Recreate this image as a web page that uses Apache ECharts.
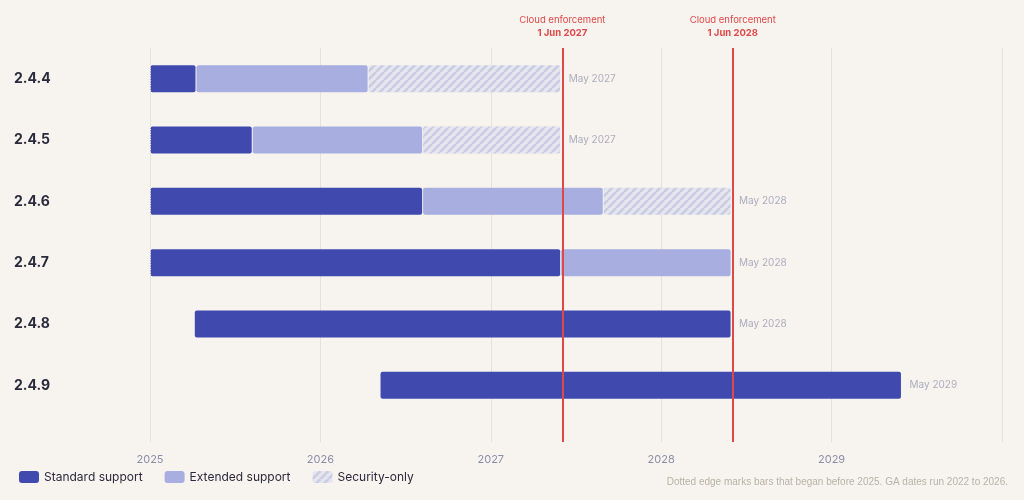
<!DOCTYPE html>
<html>
<head>
<meta charset="utf-8">
<script src="https://cdn.jsdelivr.net/npm/echarts@6/dist/echarts.min.js"></script>
<style>
html, body { margin: 0; background: #f7f4ef; }
#chart { width: 1024px; height: 500px; }
</style>
</head>
<body>
<div id="chart"></div>
<script>
// release lines, top to bottom
let versions = ['2.4.4', '2.4.5', '2.4.6', '2.4.7', '2.4.8', '2.4.9']
// times as decimal years
let barStart = [2025, 2025, 2025, 2025, 2025.26, 2026.35]
let beganBefore = [true, true, true, true, false, false]
let stdEnd = [2025.27, 2025.60, 2026.60, 2027.41, 2028.41, 2029.41]
let extEnd = [2026.28, 2026.60, 2027.66, 2028.41, null, null]
let secEnd = [2027.41, 2027.41, 2028.41, null, null, null]
let endLabels = ['May 2027', 'May 2027', 'May 2028', 'May 2028', 'May 2028', 'May 2029']
let cloudDates = [2027.416, 2028.416]
let cloudLabels = ['Cloud enforcement\n{b|1 Jun 2027}', 'Cloud enforcement\n{b|1 Jun 2028}']
let yearTicks = [2025, 2026, 2027, 2028, 2029]

let hatch = document.createElement('canvas')
hatch.width = 8; hatch.height = 8
let hc = hatch.getContext('2d')
hc.fillStyle = '#e6e6ef'
hc.fillRect(0, 0, 8, 8)
hc.strokeStyle = '#c9cbe2'
hc.lineWidth = 2.5
for (let k = -8; k <= 16; k += 8) {
    hc.beginPath(); hc.moveTo(k, 8); hc.lineTo(k + 8, 0); hc.stroke()
}

let stdData = [], extData = [], secData = []
for (let i in versions) {
    let r = Number(i)
    stdData.push([barStart[r], stdEnd[r], r])
    if (extEnd[r] != null) extData.push([stdEnd[r], extEnd[r], r])
    if (secEnd[r] != null) secData.push([extEnd[r], secEnd[r], r])
}
let endData = []
for (let i in versions) {
    let r = Number(i)
    let e = secEnd[r] || extEnd[r] || stdEnd[r]
    endData.push([e, r, endLabels[r]])
}

function segment(params, api) {
    let a = api.coord([api.value(0), api.value(2)])
    let b = api.coord([api.value(1), api.value(2)])
    let h = 27
    let children = [{
        type: 'rect',
        shape: { x: a[0] + 0.5, y: a[1] - h / 2, width: b[0] - a[0] - 1, height: h, r: 2 },
        style: api.style()
    }]
    let r = api.value(2)
    if (params.seriesIndex == 1 && beganBefore[r] && api.value(0) == 2025) {
        children.push({
            type: 'line',
            shape: { x1: a[0] + 0.5, y1: a[1] - h / 2, x2: a[0] + 0.5, y2: a[1] + h / 2 },
            style: { stroke: '#f7f4ef', lineWidth: 1, lineDash: [1, 1.5] }
        })
    }
    return { type: 'group', children: children }
}

let chart = echarts.init(document.getElementById('chart'))
chart.setOption({
    backgroundColor: '#f7f4ef',
    textStyle: { fontFamily: 'Inter, "Noto Sans", sans-serif' },
    grid: [
        { left: 150, right: 22, top: 48, bottom: 58 },
        { left: 150, right: 22, top: 48, bottom: 84 }
    ],
    xAxis: [
        {
            gridIndex: 0, type: 'value', min: 2025, max: 2030, interval: 1,
            axisLine: { show: false }, axisTick: { show: false },
            splitLine: { lineStyle: { color: '#e6e1da', width: 1 } },
            axisLabel: {
                color: '#8c8ea8', fontSize: 11, margin: 12,
                formatter: v => yearTicks.indexOf(v) >= 0 ? String(v) : ''
            }
        },
        {
            gridIndex: 1, type: 'value', min: 2025, max: 2030, interval: 1,
            axisLine: { show: false }, axisTick: { show: false },
            splitLine: { show: false }, axisLabel: { show: false }
        }
    ],
    yAxis: [
        { gridIndex: 0, type: 'value', min: 0, max: 1, show: false },
        {
            gridIndex: 1, type: 'category', data: versions, inverse: true,
            axisLine: { show: false }, axisTick: { show: false },
            axisLabel: { color: '#2a2a3c', fontSize: 14, fontWeight: 'bold', align: 'left', margin: 136 }
        }
    ],
    legend: {
        left: 14, bottom: 12, itemWidth: 20, itemHeight: 12, itemGap: 22,
        icon: 'roundRect',
        textStyle: { color: '#2a2a3c', fontSize: 12 },
        data: ['Standard support', 'Extended support', 'Security-only']
    },
    graphic: [{
        type: 'text', right: 16, bottom: 13,
        style: { text: 'Dotted edge marks bars that began before 2025. GA dates run 2022 to 2026.', fill: '#b9b2a6', fontSize: 10 }
    }],
    series: [
        {
            type: 'line', xAxisIndex: 0, yAxisIndex: 0, data: [], silent: true,
            markLine: {
                symbol: 'none', silent: true,
                lineStyle: { color: '#e04848', width: 2, type: 'solid' },
                label: {
                    position: 'end', color: '#e04848', fontSize: 9.5, lineHeight: 13, distance: 8,
                    formatter: p => cloudLabels[p.dataIndex],
                    rich: { b: { fontWeight: 'bold', fontSize: 9.5, color: '#e04848' } }
                },
                data: cloudDates.map(d => ({ xAxis: d }))
            }
        },
        {
            name: 'Standard support', type: 'custom', xAxisIndex: 1, yAxisIndex: 1,
            renderItem: segment, itemStyle: { color: '#3f49ae' },
            encode: { x: [0, 1], y: 2 }, data: stdData, z: 3
        },
        {
            name: 'Extended support', type: 'custom', xAxisIndex: 1, yAxisIndex: 1,
            renderItem: segment, itemStyle: { color: '#a8aee0' },
            encode: { x: [0, 1], y: 2 }, data: extData, z: 3
        },
        {
            name: 'Security-only', type: 'custom', xAxisIndex: 1, yAxisIndex: 1,
            renderItem: segment, itemStyle: { color: { image: hatch, repeat: 'repeat' } },
            encode: { x: [0, 1], y: 2 }, data: secData, z: 3
        },
        {
            type: 'scatter', xAxisIndex: 1, yAxisIndex: 1, symbolSize: 0, silent: true,
            data: endData,
            label: {
                show: true, position: 'right', distance: 8, color: '#9a9bb2', fontSize: 10,
                formatter: p => p.data[2]
            }
        }
    ]
})
</script>
</body>
</html>
